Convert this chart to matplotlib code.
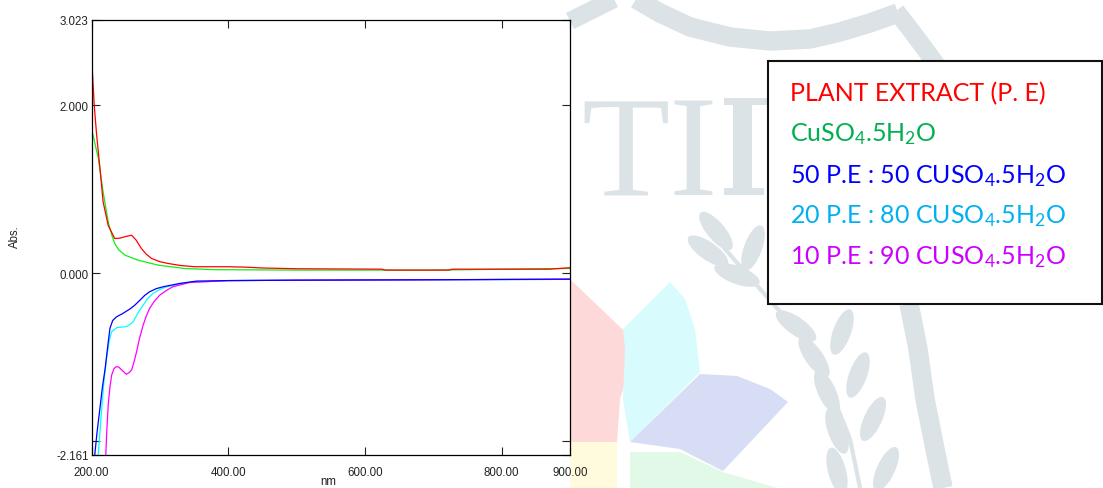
import numpy as np
import matplotlib.pyplot as plt
from matplotlib.patches import Polygon, Rectangle

# absorbance spectra (nm, Abs.)
wl_pe = [200, 201, 204, 207.6, 212.4, 217, 224.5, 234, 241.6, 250, 258.7, 265, 273, 280,
         288, 300, 312, 330, 351, 400, 426, 450, 500, 625, 630, 723, 728, 870, 900]
abs_pe = [2.59, 2.45, 2.0, 1.64, 1.25, 0.85, 0.57, 0.416, 0.42, 0.44, 0.455, 0.40, 0.297, 0.23,
          0.178, 0.14, 0.119, 0.095, 0.08, 0.08, 0.075, 0.065, 0.056, 0.051, 0.04, 0.04, 0.051, 0.051, 0.068]

wl_cu = [200, 203, 210, 217, 224.5, 230, 234, 240, 249, 268, 297.5, 336, 380, 500, 700, 800, 900]
abs_cu = [1.72, 1.62, 1.37, 0.97, 0.61, 0.45, 0.356, 0.28, 0.218, 0.158, 0.099, 0.059, 0.045,
          0.04, 0.04, 0.05, 0.06]

wl_50 = [203, 205, 208, 212.4, 216, 220, 224, 227, 231, 236.8, 245, 256, 263, 271, 278, 285,
         295, 305, 329, 353.6, 400, 500, 700, 900]
abs_50 = [-2.6, -2.14, -1.9, -1.60, -1.35, -1.13, -0.85, -0.653, -0.56, -0.515, -0.48, -0.424,
          -0.38, -0.317, -0.26, -0.218, -0.18, -0.158, -0.119, -0.091, -0.085, -0.08, -0.075, -0.067]

wl_20 = [208, 210, 215, 218, 222, 226, 229.5, 237, 251, 256, 261, 268, 275.6, 282, 290, 300,
         310, 339, 400, 500, 900]
abs_20 = [-2.6, -2.14, -1.60, -1.3, -1.01, -0.80, -0.693, -0.645, -0.633, -0.61, -0.574, -0.47,
          -0.376, -0.30, -0.238, -0.19, -0.158, -0.107, -0.085, -0.08, -0.07]

wl_10 = [219, 221, 222.5, 224.5, 227, 229.5, 233, 237, 240, 244, 251, 255, 258.7, 262, 266, 270,
         275.6, 280, 285, 292, 300, 310, 319, 344, 400, 500, 900]
abs_10 = [-2.6, -2.14, -1.85, -1.56, -1.35, -1.21, -1.13, -1.108, -1.115, -1.148, -1.20, -1.18,
          -1.148, -1.06, -0.93, -0.78, -0.614, -0.51, -0.416, -0.33, -0.257, -0.20, -0.158,
          -0.107, -0.085, -0.08, -0.07]

xticks = [200, 400, 600, 800, 900]
xlabels = ['200.00', '400.00', '600.00', '800.00', '900.00']
yticks = [-2.161, -2.0, 0.0, 2.0, 3.023]
ylabels = ['-2.161', '', '0.000', '2.000', '3.023']

legend_labels = ['PLANT EXTRACT (P. E)', r'CuSO$_4$.5H$_2$O',
                 r'50 P.E : 50 CUSO$_4$.5H$_2$O', r'20 P.E : 80 CUSO$_4$.5H$_2$O',
                 r'10 P.E : 90 CUSO$_4$.5H$_2$O']
legend_colors = ['#ff0000', '#00b050', '#0000ff', '#00b0f0', '#cc00ff']

plt.rcParams['font.family'] = 'Liberation Sans'
plt.rcParams['mathtext.fontset'] = 'custom'
plt.rcParams['mathtext.rm'] = 'Lato'
plt.rcParams['mathtext.it'] = 'Lato'

W, H = 1103, 489
fig = plt.figure(figsize=(W / 100, H / 100), dpi=100)

# faint watermark logo behind everything, in pixel coords
bg = fig.add_axes([0, 0, 1, 1], zorder=0)
bg.set_xlim(0, W)
bg.set_ylim(H, 0)
bg.axis('off')
grey = '#dce3e6'
bg.text(581, 196, 'TI', fontsize=104, family='Liberation Serif', color=grey,
        va='baseline', ha='left')
bg.add_patch(Rectangle((733, 99), 19, 97, color=grey, lw=0))
bg.add_patch(Rectangle((724, 99), 44, 7, color=grey, lw=0))
bg.add_patch(Rectangle((724, 189), 40, 7, color=grey, lw=0))
# shield outline
bg.plot([570, 590, 614], [22, 12, 0], color=grey, lw=13, solid_capstyle='butt')
bg.plot([636, 660, 690, 730, 770, 810, 840, 870, 898], [0, 14, 28, 38, 42, 40, 33, 24, 14],
        color=grey, lw=14, solid_capstyle='butt')
bg.plot([896, 910, 925, 938], [12, 30, 50, 68], color=grey, lw=13, solid_capstyle='butt')
bg.plot([909, 918, 925, 934, 943], [305, 350, 400, 445, 489], color=grey, lw=14,
        solid_capstyle='butt')
# petals
petals = [([570, 573, 643, 628, 620, 617, 570], [280, 283, 350, 375, 400, 443, 443], '#fdd9da'),
          ([670, 685, 695, 700, 630, 623, 625, 623], [283, 300, 330, 373, 443, 400, 350, 330], '#d8fbfd'),
          ([700, 737, 770, 788, 723, 680, 630], [375, 377, 390, 403, 472, 450, 443], '#d6ddf4'),
          ([630, 680, 723, 777, 630], [453, 453, 473, 489, 489], '#e2f9e8'),
          ([570, 617, 617, 570], [443, 443, 489, 489], '#fffbdc')]
for px, py, c in petals:
    bg.add_patch(Polygon(list(zip(px, py)), closed=True, color=c, lw=0))
# wheat ear: stem and leaves (angle in degrees, y pointing down)
bg.plot([725, 760, 800, 830, 850, 860], [250, 290, 335, 390, 440, 489], color=grey, lw=3)
leaves = [(708, 252, 35), (737, 276, 20), (716, 232, 50), (796, 327, 35), (814, 358, 55),
          (827, 393, 65), (837, 432, 70), (837, 472, 75), (753, 249, -70), (842, 333, -70),
          (858, 376, -70), (873, 420, -65), (886, 470, -65)]
t = np.linspace(0, 2 * np.pi, 40)
for cx, cy, ang in leaves:
    ex, ey = 24 * np.cos(t), 9 * np.sin(t)
    a = np.deg2rad(ang)
    bg.fill(cx + ex * np.cos(a) - ey * np.sin(a), cy + ex * np.sin(a) + ey * np.cos(a),
            color=grey, lw=0)

# spectrum axes
ax = fig.add_axes([91.5 / W, 1 - 456 / H, (570 - 91.5) / W, (456 - 20.5) / H], zorder=2)
ax.set_facecolor('white')
ax.plot(wl_cu, abs_cu, color='#11ee11', lw=0.9)
ax.plot(wl_pe, abs_pe, color='#ff0000', lw=0.9)
ax.plot(wl_20, abs_20, color='#00ffff', lw=0.9)
ax.plot(wl_10, abs_10, color='#ff00ff', lw=0.9)
ax.plot(wl_50, abs_50, color='#0000ff', lw=0.9)
ax.set_xlim(200, 900)
ax.set_ylim(-2.161, 3.023)
ax.set_xticks(xticks)
ax.set_xticklabels(xlabels)
ax.set_yticks(yticks)
ax.set_yticklabels(ylabels)
ax.tick_params(direction='in', top=True, right=True, length=6, width=0.8,
               labelsize=8.3, colors='#222222')
ax.tick_params(axis='x', pad=8)
ax.tick_params(axis='y', pad=2)
for s in ax.spines.values():
    s.set_linewidth(0.9)

fig.text(15 / W, 1 - 237 / H, 'Abs.', rotation=90, fontsize=8.3, color='#222222',
         ha='center', va='center')
fig.text(328 / W, 1 - 488 / H, 'nm', fontsize=8.3, color='#222222', ha='center', va='bottom')

# legend box: white framed rectangle with coloured lines of text
lg = fig.add_axes([0, 0, 1, 1], zorder=3)
lg.set_xlim(0, W)
lg.set_ylim(H, 0)
lg.axis('off')
lg.add_patch(Rectangle((768, 62), 334, 243, facecolor='white', edgecolor='#111111', lw=1.5))
baselines = [101.7, 141, 183, 223, 264]
texts = []
for lab, c, yb in zip(legend_labels, legend_colors, baselines):
    texts.append(lg.text(790, yb, lab, color=c, fontsize=18, family='Lato',
                         va='baseline', ha='left'))
fig.canvas.draw()
w0 = texts[0].get_window_extent().width
fs = 18 * 256 / w0
for t in texts:
    t.set_fontsize(fs)

fig.savefig('out.png', dpi=100)
